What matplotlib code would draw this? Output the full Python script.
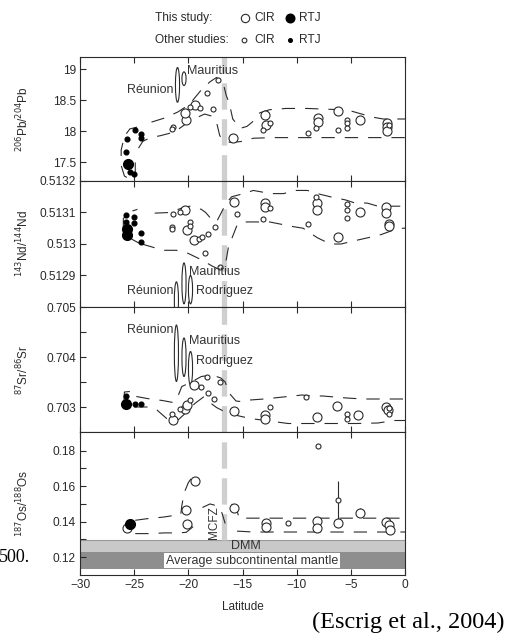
import matplotlib
matplotlib.use("Agg")
import matplotlib.pyplot as plt
from matplotlib.patches import Ellipse
from matplotlib.lines import Line2D
from matplotlib.ticker import FixedLocator, FuncFormatter

plt.rcParams['font.family'] = ['Liberation Sans', 'DejaVu Sans']

# ---------------- data ----------------
mcfz_lat = -16.7

# Pb panel
pb_this_cir_lat = [-20.2, -20.3, -19.4, -15.9, -12.9, -12.8, -8.0, -8.0, -6.2, -4.2, -1.7, -1.7, -1.7]
pb_this_cir_val = [18.18, 18.30, 18.43, 17.89, 18.27, 18.10, 18.22, 18.15, 18.33, 18.18, 18.14, 18.07, 18.00]
pb_other_cir_lat = [-21.4, -21.5, -19.8, -18.9, -18.3, -17.7, -17.3, -12.5, -13.1, -8.2, -9.0, -6.2, -5.4, -5.4, -5.4, -1.5]
pb_other_cir_val = [18.07, 18.04, 18.39, 18.38, 18.62, 18.36, 18.83, 18.14, 18.02, 18.05, 17.98, 18.02, 18.18, 18.13, 18.06, 18.11]
pb_this_rtj_lat = [-25.6]
pb_this_rtj_val = [17.48]
pb_other_rtj_lat = [-25.7, -25.8, -24.9, -24.4, -24.4, -25.4, -25.0]
pb_other_rtj_val = [17.88, 17.66, 18.03, 17.96, 17.90, 17.34, 17.31]
pb_env_loop_lat = [-24.9, -24.9, -25.3, -25.9, -26.2, -26.2, -25.9, -25.4, -24.7, -24.3]
pb_env_loop_val = [17.50, 17.33, 17.22, 17.28, 17.45, 17.70, 17.92, 18.04, 18.07, 18.07]
pb_env_up_lat = [-23.4, -22.3, -21.0, -20.3, -19.6, -18.8, -18.0, -17.4, -16.8, -16.5, -16.2, -15.9, -15.2, -14.6, -14.1, -13.4, -12.5, -11.0, -9.0, -7.5, -6.0, -5.0, -4.0, -3.0, -2.0, 0.0]
pb_env_up_val = [18.15, 18.21, 18.31, 18.39, 18.50, 18.67, 18.80, 18.87, 18.79, 18.58, 18.44, 18.20, 18.05, 18.08, 18.15, 18.30, 18.35, 18.37, 18.37, 18.36, 18.35, 18.33, 18.28, 18.23, 18.20, 18.20]
pb_env_lo_lat = [-24.6, -24.2, -23.5, -22.6, -21.5, -20.8, -20.0, -19.5, -18.5, -17.9, -17.4, -17.1, -16.6, -16.0, -15.0, -14.0, -12.0, -9.0, -6.0, -3.0, 0.0]
pb_env_lo_val = [17.73, 17.84, 17.90, 17.93, 17.98, 18.05, 18.15, 18.20, 18.28, 18.25, 18.15, 17.93, 17.84, 17.82, 17.84, 17.89, 17.90, 17.90, 17.90, 17.90, 17.90]
pb_island_names = ["Réunion", "Mauritius"]
pb_island_lat = [-21.0, -20.4]
pb_island_lo = [18.47, 18.74]
pb_island_hi = [19.03, 18.96]

# Nd panel
nd_this_cir_lat = [-20.3, -20.1, -19.5, -15.8, -12.9, -12.9, -8.1, -8.1, -6.2, -4.2, -1.8, -1.8, -1.5, -1.5]
nd_this_cir_val = [0.513108, 0.513044, 0.513013, 0.513134, 0.513129, 0.513116, 0.513129, 0.513108, 0.513021, 0.513100, 0.513116, 0.513097, 0.513065, 0.513057]
nd_other_cir_lat = [-21.4, -20.8, -21.5, -21.5, -19.8, -19.8, -19.0, -18.7, -18.2, -17.5, -17.1, -18.5, -15.5, -12.5, -13.1, -8.2, -9.0, -5.4, -5.4, -5.4]
nd_other_cir_val = [0.513094, 0.513100, 0.513055, 0.513047, 0.513071, 0.513057, 0.513015, 0.513023, 0.513032, 0.513055, 0.512926, 0.512970, 0.513095, 0.513113, 0.513079, 0.513148, 0.513063, 0.513127, 0.513108, 0.513082]
nd_this_rtj_lat = [-25.7, -25.7]
nd_this_rtj_val = [0.513047, 0.513030]
nd_other_rtj_lat = [-25.8, -25.8, -25.0, -25.0, -24.4, -24.4]
nd_other_rtj_val = [0.513092, 0.513071, 0.513085, 0.513068, 0.513034, 0.513007]
nd_env_loop_lat = [-24.4, -25.1, -25.8, -26.0, -26.0, -25.6, -24.7]
nd_env_loop_val = [0.513000, 0.513013, 0.513030, 0.513050, 0.513080, 0.513100, 0.513110]
nd_env_up_lat = [-23.1, -21.7, -20.3, -19.8, -18.8, -18.4, -17.9, -17.4, -16.8, -16.5, -16.0, -14.9, -14.0, -12.4, -11.2, -10.2, -9.0, -8.1, -6.9, -5.5, -4.6, -3.5, -2.5, -1.0, 0.0]
nd_env_up_val = [0.513098, 0.513100, 0.513118, 0.513120, 0.513110, 0.513100, 0.513080, 0.513070, 0.513110, 0.513130, 0.513150, 0.513160, 0.513170, 0.513160, 0.513160, 0.513170, 0.513170, 0.513160, 0.513150, 0.513140, 0.513130, 0.513130, 0.513120, 0.513120, 0.513120]
nd_env_lo_lat = [-24.3, -23.3, -22.3, -21.1, -20.0, -18.8, -17.8, -17.2, -16.5, -16.3, -15.5, -14.9, -14.2, -12.5, -10.3, -9.4, -8.1, -6.9, -5.9, -4.7, -3.4, -2.2, -0.6, 0.0]
nd_env_lo_val = [0.513000, 0.512990, 0.512980, 0.512980, 0.512970, 0.512950, 0.512930, 0.512920, 0.512950, 0.512990, 0.513060, 0.513070, 0.513070, 0.513070, 0.513055, 0.513050, 0.513020, 0.513000, 0.513000, 0.513010, 0.513020, 0.513030, 0.513050, 0.513050]
nd_island_names = ["Réunion", "Mauritius", "Rodriguez"]
nd_island_lat = [-21.1, -20.4, -19.8]
nd_island_lo = [0.51276, 0.51281, 0.51281]
nd_island_hi = [0.51288, 0.51294, 0.51290]

# Sr panel
sr_this_cir_lat = [-19.5, -20.3, -20.1, -21.4, -15.8, -12.9, -12.9, -8.1, -6.3, -4.3, -1.8, -1.6]
sr_this_cir_val = [0.70343, 0.70297, 0.70304, 0.70274, 0.70291, 0.70284, 0.70277, 0.70279, 0.70302, 0.70284, 0.70300, 0.70293]
sr_other_cir_lat = [-18.3, -17.1, -18.8, -18.2, -19.8, -17.6, -20.8, -21.5, -9.1, -12.5, -5.4, -5.4, -1.5, -1.5]
sr_other_cir_val = [0.70359, 0.70350, 0.70341, 0.70329, 0.70314, 0.70316, 0.70296, 0.70287, 0.70321, 0.70300, 0.70286, 0.70277, 0.70299, 0.70287]
sr_this_rtj_lat = [-25.8]
sr_this_rtj_val = [0.70306]
sr_other_rtj_lat = [-24.9, -24.4, -25.8]
sr_other_rtj_val = [0.70306, 0.70306, 0.70322]
sr_env_loop_lat = [-25.4, -25.9, -25.95, -25.7]
sr_env_loop_val = [0.70331, 0.70330, 0.70310, 0.70302]
sr_env_up_lat = [-24.8, -23.8, -22.4, -21.4, -20.9, -20.6, -20.0, -19.3, -18.8, -17.8, -17.0, -16.6, -16.2, -15.6, -15.2, -14.3, -13.0, -10.8, -9.5, -8.6, -7.6, -6.5, -5.4, -3.8, -2.7, -1.4, 0.0]
sr_env_up_val = [0.70321, 0.70317, 0.70313, 0.70309, 0.70325, 0.70341, 0.70347, 0.70355, 0.70361, 0.70364, 0.70358, 0.70350, 0.70327, 0.70312, 0.70311, 0.70314, 0.70316, 0.70321, 0.70324, 0.70322, 0.70322, 0.70320, 0.70318, 0.70316, 0.70316, 0.70316, 0.70316]
sr_env_lo_lat = [-25.0, -23.5, -22.9, -22.0, -21.4, -20.9, -20.1, -19.4, -18.6, -18.2, -17.4, -16.5, -15.7, -14.3, -12.5, -10.8, -9.8, -8.5, -6.5, -4.5, -2.5, -1.0, 0.0]
sr_env_lo_val = [0.70300, 0.70300, 0.70294, 0.70277, 0.70271, 0.70275, 0.70291, 0.70307, 0.70320, 0.70312, 0.70299, 0.70289, 0.70284, 0.70277, 0.70272, 0.70267, 0.70267, 0.70267, 0.70267, 0.70267, 0.70268, 0.70273, 0.70273]
sr_island_names = ["Réunion", "Mauritius", "Rodriguez"]
sr_island_lat = [-21.1, -20.4, -19.8]
sr_island_lo = [0.70351, 0.70361, 0.70344]
sr_island_hi = [0.70464, 0.70438, 0.70411]

# Os panel
os_this_cir_lat = [-25.7, -19.4, -20.2, -20.1, -15.8, -12.8, -12.8, -8.1, -8.1, -6.2, -4.2, -1.8, -1.5, -1.4]
os_this_cir_val = [0.1365, 0.1631, 0.1467, 0.1385, 0.1476, 0.1392, 0.1370, 0.1402, 0.1367, 0.1395, 0.1448, 0.1400, 0.1381, 0.1355]
os_other_cir_lat = [-8.0, -10.8, -6.2]
os_other_cir_val = [0.1827, 0.1395, 0.1523]
os_this_rtj_lat = [-25.4]
os_this_rtj_val = [0.1385]
os_err_lat = [-6.2, -4.2]
os_err_lo = [0.1405, 0.1425]
os_err_hi = [0.1630, 0.1475]
os_env_up1_lat = [-24.9, -23.8, -22.3, -20.7, -20.6, -20.4, -20.0, -19.6]
os_env_up1_val = [0.1408, 0.1417, 0.1426, 0.1441, 0.1490, 0.1560, 0.1620, 0.1655]
os_env_up2_lat = [-18.7, -18.0, -17.4, -16.9, -16.6]
os_env_up2_val = [0.1480, 0.1500, 0.1490, 0.1450, 0.1390]
os_env_up3_lat = [-16.0, -15.5, -15.3, -14.0, -12.0, -10.0, -8.0, -6.0, -4.0, -2.0, 0.0]
os_env_up3_val = [0.1500, 0.1460, 0.1420, 0.1420, 0.1420, 0.1420, 0.1420, 0.1420, 0.1420, 0.1420, 0.1420]
os_env_lo1_lat = [-24.9, -23.5, -22.2, -21.0, -20.2, -19.6, -19.3]
os_env_lo1_val = [0.1333, 0.1333, 0.1337, 0.1337, 0.1340, 0.1370, 0.1400]
os_env_lo2_lat = [-15.5, -14.0, -12.0, -10.0, -8.0, -6.0, -4.0, -2.0, 0.0]
os_env_lo2_val = [0.1347, 0.1342, 0.1342, 0.1342, 0.1342, 0.1342, 0.1342, 0.1342, 0.1342]
dmm_lo, dmm_hi = 0.1230, 0.1296
scm_lo, scm_hi = 0.1133, 0.1230

# axis settings
xlim = (-30, 0)
xticks = [-30, -25, -20, -15, -10, -5, 0]
pb_ylim = (17.2, 19.2)
pb_yticks = [17.5, 18, 18.5, 19]
nd_ylim = (0.5128, 0.5132)
nd_yticks = [0.5129, 0.5130, 0.5131, 0.5132]
sr_ylim = (0.7025, 0.7050)
sr_yticks = [0.703, 0.704, 0.705]
sr_yminor = [0.7035, 0.7045]
os_ylim = (0.110, 0.1905)
os_yticks = [0.12, 0.14, 0.16, 0.18]
os_yminor = [0.13, 0.15, 0.17]

# ---------------- styling ----------------
ink = '#2a2a2a'
env_dash = (12, 9)
big_ms, small_ms = 6.5, 3.6
big_fill_ms, small_fill_ms = 7.0, 3.4

fig = plt.figure(figsize=(5.2, 6.42), dpi=100)
gs = fig.add_gridspec(4, 1, left=80/520, right=405/520, top=1-57/642, bottom=1-575/642,
                      hspace=0, height_ratios=[124, 126, 125, 143])
axes = [fig.add_subplot(gs[i]) for i in range(4)]


def base(ax, ylim, yticks, ylabel, yminor=None):
    ax.set_xlim(*xlim)
    ax.set_ylim(*ylim)
    ax.xaxis.set_major_locator(FixedLocator(xticks))
    ax.yaxis.set_major_locator(FixedLocator(yticks))
    if yminor:
        ax.yaxis.set_minor_locator(FixedLocator(yminor))
    ax.yaxis.set_major_formatter(FuncFormatter(lambda v, p: '%g' % v))
    ax.tick_params(which='both', direction='in', length=4, width=0.8, top=True, bottom=True,
                   right=False, labelsize=8.6, colors=ink, pad=3)
    for s in ax.spines.values():
        s.set_color(ink)
        s.set_linewidth(0.8)
    ax.set_ylabel(ylabel, fontsize=8.5, color=ink)
    ax.yaxis.set_label_coords(-0.15, 0.5)


def points(ax, tcl, tcv, ocl, ocv, trl, trv, orl, orv):
    ax.plot(tcl, tcv, 'o', ms=big_ms, mfc='white', mec=ink, mew=0.8, zorder=4, ls='none')
    ax.plot(ocl, ocv, 'o', ms=small_ms, mfc='white', mec=ink, mew=0.8, zorder=4, ls='none')
    ax.plot(trl, trv, 'o', ms=big_fill_ms, color='black', zorder=5, ls='none')
    ax.plot(orl, orv, 'o', ms=small_fill_ms, color='black', zorder=5, ls='none')


def env(ax, lat, val):
    ax.plot(lat, val, color=ink, lw=0.8, dashes=env_dash, zorder=3)


def islands(ax, names, lat, lo, hi, label_pos):
    for n, x, a, b, (tx, ty, ha) in zip(names, lat, lo, hi, label_pos):
        ax.add_patch(Ellipse((x, (a + b) / 2), 0.38, b - a, fill=False, ec=ink, lw=0.8, zorder=3))
        ax.text(tx, ty, n, ha=ha, va='center', fontsize=9, color='#333333', zorder=6)


def mcfz(ax, ymin=0.0):
    ax.axvline(mcfz_lat, ymin=ymin, ymax=1, color='#cfcfcf', lw=3.8, dashes=(5, 1.8), zorder=1)


# Pb
ax = axes[0]
base(ax, pb_ylim, pb_yticks, r'$^{206}$Pb/$^{204}$Pb')
mcfz(ax)
env(ax, pb_env_loop_lat, pb_env_loop_val)
env(ax, pb_env_up_lat, pb_env_up_val)
env(ax, pb_env_lo_lat, pb_env_lo_val)
islands(ax, pb_island_names, pb_island_lat, pb_island_lo, pb_island_hi,
        [(-21.35, 18.67, 'right'), (-20.1, 18.97, 'left')])
points(ax, pb_this_cir_lat, pb_this_cir_val, pb_other_cir_lat, pb_other_cir_val,
       pb_this_rtj_lat, pb_this_rtj_val, pb_other_rtj_lat, pb_other_rtj_val)

# Nd
ax = axes[1]
base(ax, nd_ylim, nd_yticks, r'$^{143}$Nd/$^{144}$Nd')
mcfz(ax)
env(ax, nd_env_loop_lat, nd_env_loop_val)
env(ax, nd_env_up_lat, nd_env_up_val)
env(ax, nd_env_lo_lat, nd_env_lo_val)
islands(ax, nd_island_names, nd_island_lat, nd_island_lo, nd_island_hi,
        [(-21.35, 0.512852, 'right'), (-19.95, 0.512912, 'left'), (-19.3, 0.512852, 'left')])
points(ax, nd_this_cir_lat, nd_this_cir_val, nd_other_cir_lat, nd_other_cir_val,
       nd_this_rtj_lat, nd_this_rtj_val, nd_other_rtj_lat, nd_other_rtj_val)

# Sr
ax = axes[2]
base(ax, sr_ylim, sr_yticks, r'$^{87}$Sr/$^{86}$Sr', sr_yminor)
mcfz(ax)
env(ax, sr_env_loop_lat, sr_env_loop_val)
env(ax, sr_env_up_lat, sr_env_up_val)
env(ax, sr_env_lo_lat, sr_env_lo_val)
islands(ax, sr_island_names, sr_island_lat, sr_island_lo, sr_island_hi,
        [(-21.35, 0.70454, 'right'), (-19.95, 0.70432, 'left'), (-19.3, 0.70392, 'left')])
points(ax, sr_this_cir_lat, sr_this_cir_val, sr_other_cir_lat, sr_other_cir_val,
       sr_this_rtj_lat, sr_this_rtj_val, sr_other_rtj_lat, sr_other_rtj_val)

# Os
ax = axes[3]
base(ax, os_ylim, os_yticks, r'$^{187}$Os/$^{188}$Os', os_yminor)
ax.axhspan(dmm_lo, dmm_hi, color='#c9c9c9', lw=0, zorder=1)
ax.axhspan(scm_lo, scm_hi, color='#8e8e8e', lw=0, zorder=1)
ax.axhline(dmm_hi, color='#9a9a9a', lw=0.8, zorder=1)
mcfz(ax, ymin=(dmm_hi - os_ylim[0]) / (os_ylim[1] - os_ylim[0]))
ax.text(-14.7, (dmm_lo + dmm_hi) / 2, 'DMM', ha='center', va='center', fontsize=9, color='#333333', zorder=6)
ax.text(-14.1, (scm_lo + scm_hi) / 2, 'Average subcontinental mantle', ha='center', va='center',
        fontsize=9, color='#333333', zorder=6,
        bbox=dict(boxstyle='square,pad=0.15', fc='white', ec='none'))
for lat_, val_ in [(os_env_up1_lat, os_env_up1_val), (os_env_up2_lat, os_env_up2_val),
                   (os_env_up3_lat, os_env_up3_val), (os_env_lo1_lat, os_env_lo1_val),
                   (os_env_lo2_lat, os_env_lo2_val)]:
    env(ax, lat_, val_)
ax.vlines(os_err_lat, os_err_lo, os_err_hi, color=ink, lw=0.8, zorder=3)
points(ax, os_this_cir_lat, os_this_cir_val, os_other_cir_lat, os_other_cir_val,
       os_this_rtj_lat, os_this_rtj_val, [], [])
ax.text(-17.6, 0.1395, 'MCFZ', rotation=90, ha='center', va='center', fontsize=8.5, color='#333333', zorder=6)

for a in axes[:-1]:
    a.tick_params(labelbottom=False)
axes[-1].set_xlabel('Latitude', fontsize=8.5, color=ink, labelpad=7)

# legend (header)
fig.text(155/520, 1-18/642, 'This study:', fontsize=8.6, va='center', color=ink)
fig.text(155/520, 1-40/642, 'Other studies:', fontsize=8.6, va='center', color=ink)
fig.add_artist(Line2D([245/520], [1-18/642], marker='o', ms=6, mfc='white', mec=ink, mew=0.8, transform=fig.transFigure))
fig.add_artist(Line2D([290/520], [1-18/642], marker='o', ms=6.2, color='black', transform=fig.transFigure))
fig.add_artist(Line2D([244/520], [1-40/642], marker='o', ms=3.4, mfc='white', mec=ink, mew=0.8, transform=fig.transFigure))
fig.add_artist(Line2D([290/520], [1-40/642], marker='o', ms=2.6, color='black', transform=fig.transFigure))
for yy in (18, 40):
    fig.text(254/520, 1-yy/642, 'CIR', fontsize=8.6, va='center', color=ink)
    fig.text(299/520, 1-yy/642, 'RTJ', fontsize=8.6, va='center', color=ink)

# surrounding page text
fig.text(30/520, 1-558/642, '500.', ha='right', va='center', fontsize=13,
         family=['Liberation Serif', 'DejaVu Serif'], color='black')
fig.text(505/520, 1-622/642, '(Escrig et al., 2004)', ha='right', va='center', fontsize=17.5,
         family=['Liberation Serif', 'DejaVu Serif'], color='black')

fig.savefig('out.png', dpi=100)
